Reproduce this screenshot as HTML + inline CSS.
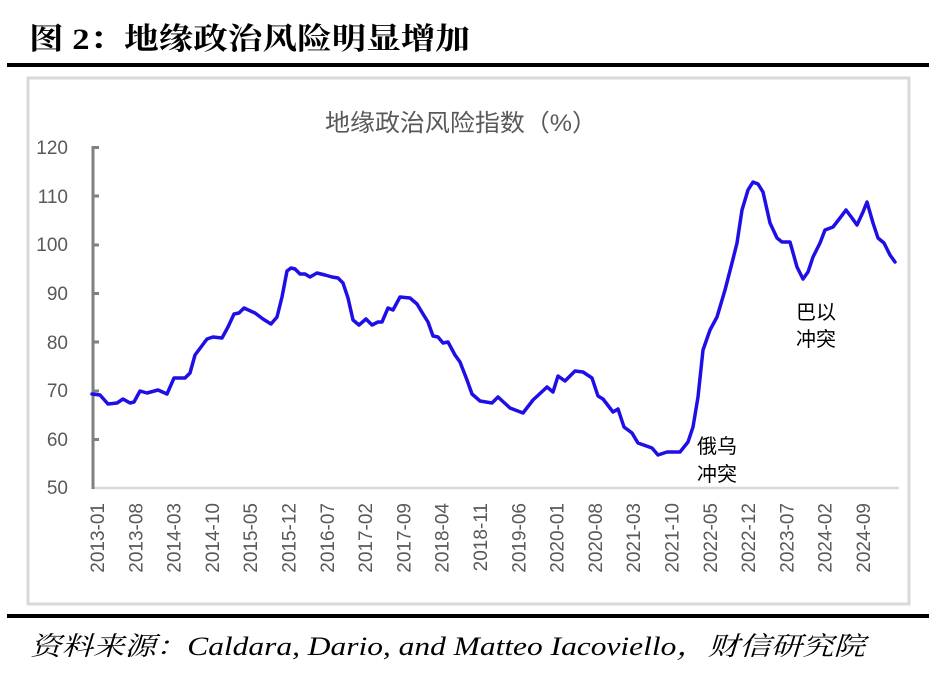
<!DOCTYPE html>
<html><head><meta charset="utf-8"><style>
body{margin:0;background:#fff;width:936px;height:682px;overflow:hidden}
svg{display:block}
</style></head><body>
<svg width="936" height="682" viewBox="0 0 936 682" xmlns="http://www.w3.org/2000/svg">
<text x="29" y="49" font-family="'Liberation Serif','Noto Serif CJK SC',serif" font-size="30" font-weight="bold" fill="#000" textLength="441" lengthAdjust="spacingAndGlyphs">图 2：地缘政治风险明显增加</text>
<rect x="7" y="63" width="922" height="4" fill="#000"/>
<rect x="28" y="78" width="881" height="526" fill="none" stroke="#d9d9d9" stroke-width="3"/>
<text x="325" y="131" font-family="'Liberation Sans','Noto Sans CJK SC',sans-serif" font-size="24" fill="#595959" textLength="272" lengthAdjust="spacingAndGlyphs">地缘政治风险指数（%）</text>
<g font-family="'Liberation Sans',sans-serif" font-size="19" fill="#595959" text-anchor="end">
<text x="68" y="154">120</text><text x="68" y="203">110</text><text x="68" y="251">100</text>
<text x="68" y="300">90</text><text x="68" y="349">80</text><text x="68" y="397">70</text>
<text x="68" y="446">60</text><text x="68" y="494">50</text>
</g>
<line x1="92" y1="488" x2="899" y2="488" stroke="#d9d9d9" stroke-width="2.5"/>
<line x1="93" y1="146" x2="93" y2="489" stroke="#808080" stroke-width="3"/>
<g stroke="#808080" stroke-width="3">
<line x1="93" y1="147.5" x2="99" y2="147.5"/><line x1="93" y1="196" x2="99" y2="196"/><line x1="93" y1="245" x2="99" y2="245"/><line x1="93" y1="293.5" x2="99" y2="293.5"/><line x1="93" y1="342" x2="99" y2="342"/><line x1="93" y1="391" x2="99" y2="391"/><line x1="93" y1="439.5" x2="99" y2="439.5"/>
</g>
<g font-family="'Liberation Sans',sans-serif" font-size="19" fill="#595959" text-anchor="end">
<text transform="translate(104,503) rotate(-90)">2013-01</text>
<text transform="translate(142.3,503) rotate(-90)">2013-08</text>
<text transform="translate(180.6,503) rotate(-90)">2014-03</text>
<text transform="translate(218.9,503) rotate(-90)">2014-10</text>
<text transform="translate(257.2,503) rotate(-90)">2015-05</text>
<text transform="translate(295.5,503) rotate(-90)">2015-12</text>
<text transform="translate(333.8,503) rotate(-90)">2016-07</text>
<text transform="translate(372.1,503) rotate(-90)">2017-02</text>
<text transform="translate(410.4,503) rotate(-90)">2017-09</text>
<text transform="translate(448.7,503) rotate(-90)">2018-04</text>
<text transform="translate(487,503) rotate(-90)">2018-11</text>
<text transform="translate(525.3,503) rotate(-90)">2019-06</text>
<text transform="translate(563.6,503) rotate(-90)">2020-01</text>
<text transform="translate(601.9,503) rotate(-90)">2020-08</text>
<text transform="translate(640.2,503) rotate(-90)">2021-03</text>
<text transform="translate(678.5,503) rotate(-90)">2021-10</text>
<text transform="translate(716.8,503) rotate(-90)">2022-05</text>
<text transform="translate(755.1,503) rotate(-90)">2022-12</text>
<text transform="translate(793.4,503) rotate(-90)">2023-07</text>
<text transform="translate(831.7,503) rotate(-90)">2024-02</text>
<text transform="translate(870,503) rotate(-90)">2024-09</text>
</g>
<polyline fill="none" stroke="#1f0ee6" stroke-width="3.5" stroke-linejoin="round" stroke-linecap="round" points="
92,394 100,395 108,404 117,403 123,399 130,403 134,402 140,391 147,393 158,390 167,394 174,378 185,378 190,373 195,355 207,339 213,337 222,338 228,327 234,314 239,313 244,308 255,313 263,319 271,324 277,317 282,297 287,271 291,268 295,269 300,274 305,274 310,277 317,273 325,275 332,277 338,278 343,283 348,298 353,320 359,325 366,319 372,325 378,322 382,322 388,308 393,310 400,297 410,298 417,304 423,314 428,322 433,336 438,337 443,343 448,342 455,355 460,362 467,380 472,394 480,401 492,403 498,397 510,408 523,413 533,400 547,387 553,392 558,376 565,381 575,371 583,372 592,378 598,396 603,399 613,412 618,409 624,427 632,433 638,443 652,448 658,455 667,452 680,452 688,442 693,427 698,397 703,350 710,330 717,317 725,290 732,263 737,243 742,210 748,190 753,182 758,184 763,192 770,223 777,238 782,242 790,242 797,267 803,279 808,272 813,257 820,243 825,230 833,227 840,218 846,210 852,218 857,225 863,212 867,202 873,223 878,238 884,243 890,255 895,262"/>
<g font-family="'Liberation Sans','Noto Sans CJK SC',sans-serif" font-size="20" fill="#000">
<text x="697" y="453">俄乌</text><text x="697" y="481">冲突</text>
<text x="796" y="319">巴以</text><text x="796" y="346">冲突</text>
</g>
<rect x="7" y="614" width="922" height="4" fill="#000"/>
<text x="30" y="655" font-family="'Liberation Serif','Noto Serif CJK SC',serif" font-size="26" font-style="italic" fill="#000" textLength="835" lengthAdjust="spacingAndGlyphs">资料来源：Caldara, Dario, and Matteo Iacoviello，财信研究院</text>
</svg>
</body></html>
